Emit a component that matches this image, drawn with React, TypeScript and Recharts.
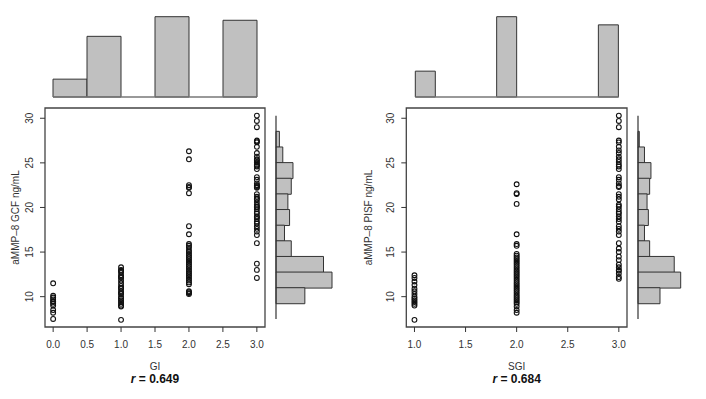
import React from 'react';
import { ScatterChart, Scatter, XAxis, YAxis, ReferenceArea, BarChart, Bar, ReferenceLine } from 'recharts';

// ---- scatter data (aMMP-8 GCF vs GI) ----
const gcfGI0 = [11.5, 10.1, 9.9, 9.7, 9.5, 9.4, 9.2, 9.0, 8.5, 8.2, 7.5];
const gcfGI1 = [13.3, 13.0, 12.9, 12.7, 12.4, 12.2, 12.1, 11.8, 11.5, 11.2, 11.0, 10.9, 10.6, 10.4, 10.3, 10.0, 9.8, 9.6, 9.4, 9.2, 9.0, 8.9, 7.4];
const gcfGI2 = [26.3, 25.4, 22.5, 22.3, 22.2, 21.6, 17.9, 17.0, 15.9, 15.7, 15.5, 15.2, 15.0, 14.8, 14.6, 14.4, 14.2, 14.0, 13.8, 13.6, 13.4, 13.2, 13.0, 12.8, 12.6, 12.4, 12.2, 12.0, 11.8, 11.6, 11.4, 10.6, 10.5, 10.4, 10.3];
const gcfGI3 = [30.3, 29.7, 29.0, 27.5, 27.4, 27.3, 26.8, 26.1, 25.7, 25.4, 25.3, 25.1, 25.0, 24.8, 24.7, 24.6, 24.3, 23.4, 23.1, 22.7, 22.5, 22.4, 22.3, 22.2, 21.5, 21.2, 21.0, 20.9, 20.6, 20.3, 20.1, 20.0, 19.8, 19.5, 19.3, 19.0, 18.9, 18.7, 18.4, 18.2, 17.9, 17.6, 17.3, 16.9, 16.0, 13.7, 13.0, 12.1];

// ---- scatter data (aMMP-8 PISF vs SGI) ----
const pisfSGI1 = [12.4, 12.1, 11.7, 11.3, 10.9, 10.6, 10.3, 10.0, 9.8, 9.6, 9.4, 9.2, 9.0, 7.4];
const pisfSGI2 = [22.6, 21.6, 21.5, 20.4, 17.0, 15.9, 15.7, 14.8, 14.6, 14.4, 14.2, 14.0, 13.8, 13.6, 13.4, 13.2, 13.0, 12.8, 12.6, 12.4, 12.2, 12.0, 11.8, 11.6, 11.4, 11.2, 11.0, 10.8, 10.6, 10.4, 10.2, 10.0, 9.8, 9.6, 9.4, 9.2, 8.9, 8.5, 8.2];
const pisfSGI3 = [30.3, 29.7, 29.0, 27.5, 27.3, 26.8, 26.4, 26.1, 25.7, 25.4, 25.1, 24.8, 24.6, 24.3, 23.4, 23.1, 22.7, 22.4, 22.3, 21.5, 21.2, 20.9, 20.3, 20.1, 19.8, 19.5, 19.3, 19.0, 18.7, 18.4, 17.9, 17.6, 17.3, 16.9, 16.0, 15.4, 15.0, 14.5, 14.1, 13.6, 13.3, 13.0, 12.9, 12.6, 12.2, 12.0];

// ---- marginal histograms ----
const giBins = ['0-0.5', '0.5-1', '1-1.5', '1.5-2', '2-2.5', '2.5-3'];
const giCounts = [10, 34, 0, 45, 0, 43];
const sgiBins = ['1.0-1.2', '1.2-1.4', '1.4-1.6', '1.6-1.8', '1.8-2.0', '2.0-2.2', '2.2-2.4', '2.4-2.6', '2.6-2.8', '2.8-3.0'];
const sgiCounts = [19, 0, 0, 0, 59, 0, 0, 0, 0, 53];
const yBins = ['30-32', '28-30', '26-28', '24-26', '22-24', '20-22', '18-20', '16-18', '14-16', '12-14', '10-12', '8-10', '6-8'];
const gcfCounts = [0, 2, 4, 10, 9, 7, 8, 5, 9, 28, 33, 17, 0];
const pisfCounts = [0, 1, 5, 10, 9, 7, 8, 5, 9, 28, 33, 17, 0];

// ---- ticks & labels ----
const yTicks = [10, 15, 20, 25, 30];
const giTicks = [0, 0.5, 1, 1.5, 2, 2.5, 3];
const sgiTicks = [1, 1.5, 2, 2.5, 3];
const yDomain: [number, number] = [6.6, 31.15];
const giDomain: [number, number] = [-0.12, 3.12];
const sgiDomain: [number, number] = [0.92, 3.08];

const FONT = '"Liberation Sans", Arial, Helvetica, sans-serif';
const TXT = '#333';

const toPts = (x: number, ys: number[]) => ys.map((y) => ({ x, y }));
const giPoints = [...toPts(0, gcfGI0), ...toPts(1, gcfGI1), ...toPts(2, gcfGI2), ...toPts(3, gcfGI3)];
const sgiPoints = [...toPts(1, pisfSGI1), ...toPts(2, pisfSGI2), ...toPts(3, pisfSGI3)];

const mkHist = (bins: string[], counts: number[]) => bins.map((bin, i) => ({ bin, count: counts[i] }));

const Circle = (props: any) => (
  <circle cx={props.cx} cy={props.cy} r={2.4} fill="none" stroke="#111" strokeWidth={1.1} />
);

const YTick = (props: any) => {
  const { x, y, payload } = props;
  return (
    <text x={x} y={y} transform={`rotate(-90 ${x} ${y})`} textAnchor="middle" fontSize={10} fill={TXT} fontFamily={FONT}>
      {payload.value}
    </text>
  );
};

const Abs = ({ left, top, children }: any) => (
  <div style={{ position: 'absolute', left, top }}>{children}</div>
);

function ScatterPanel({ points, ticks, domain, yAxisWidth, marginRight }: any) {
  return (
    <ScatterChart width={300} height={399} margin={{ top: 108, right: marginRight, bottom: 42, left: 0 }}>
      <XAxis
        type="number"
        dataKey="x"
        domain={domain}
        ticks={ticks}
        allowDataOverflow
        tickFormatter={(v: number) => v.toFixed(1)}
        axisLine={false}
        tickLine={{ stroke: TXT }}
        tickSize={5}
        tickMargin={9}
        height={30}
        tick={{ fontSize: 10, fill: TXT, fontFamily: FONT }}
      />
      <YAxis
        type="number"
        dataKey="y"
        domain={yDomain}
        ticks={yTicks}
        allowDataOverflow
        axisLine={false}
        tickLine={{ stroke: TXT }}
        tickSize={5}
        tickMargin={7}
        width={yAxisWidth}
        tick={<YTick />}
      />
      <ReferenceArea x1={domain[0]} x2={domain[1]} y1={yDomain[0]} y2={yDomain[1]} fill="none" stroke="#444" strokeWidth={1.3} fillOpacity={0} ifOverflow="visible" />
      <Scatter data={points} dataKey="y" shape={Circle} isAnimationActive={false} />
    </ScatterChart>
  );
}

function TopHist({ data, max, left, right }: any) {
  return (
    <BarChart width={300} height={100} data={data} margin={{ top: 16.7, right, bottom: 3, left }} barCategoryGap={0} barGap={0}>
      <XAxis dataKey="bin" hide />
      <YAxis hide domain={[0, max]} />
      <ReferenceLine y={0} stroke="#777" strokeWidth={1.5} ifOverflow="visible" />
      <Bar dataKey="count" fill="#c0c0c0" stroke="#333" strokeWidth={1} isAnimationActive={false} />
    </BarChart>
  );
}

function SideHist({ data, max, width, left, right }: any) {
  return (
    <BarChart layout="vertical" width={width} height={230} data={data} margin={{ top: 15.7, right, bottom: 11, left }} barCategoryGap={0} barGap={0}>
      <XAxis type="number" hide domain={[0, max]} />
      <YAxis type="category" dataKey="bin" hide />
      <ReferenceLine x={0} stroke="#333" strokeWidth={1.2} ifOverflow="visible" />
      <Bar dataKey="count" fill="#c0c0c0" stroke="#333" strokeWidth={1} isAnimationActive={false} />
    </BarChart>
  );
}

export default function App() {
  return (
    <div style={{ position: 'absolute', left: 0, top: 0, width: 706, height: 399, background: '#fff', overflow: 'hidden' }}>
      <Abs left={0} top={0}>
        <TopHist data={mkHist(giBins, giCounts)} max={45} left={53} right={43} />
      </Abs>
      <Abs left={353} top={0}>
        <TopHist data={mkHist(sgiBins, sgiCounts)} max={59} left={62.3} right={34.3} />
      </Abs>
      <Abs left={0} top={0}>
        <ScatterPanel points={giPoints} ticks={giTicks} domain={giDomain} yAxisWidth={45} marginRight={35} />
      </Abs>
      <Abs left={353} top={0}>
        <ScatterPanel points={sgiPoints} ticks={sgiTicks} domain={sgiDomain} yAxisWidth={53.3} marginRight={26} />
      </Abs>
      <Abs left={260} top={100}>
        <SideHist data={mkHist(yBins, gcfCounts)} max={33} width={90} left={16} right={18} />
      </Abs>
      <Abs left={620} top={100}>
        <SideHist data={mkHist(yBins, pisfCounts)} max={33} width={86} left={18} right={25.3} />
      </Abs>
      <svg width={706} height={399} style={{ position: 'absolute', left: 0, top: 0, pointerEvents: 'none' }} fontFamily={FONT}>
        <text x={18.7} y={217.5} transform="rotate(-90 18.7 217.5)" textAnchor="middle" fontSize={10} fill={TXT}>aMMP–8 GCF ng/mL</text>
        <text x={371.7} y={217.5} transform="rotate(-90 371.7 217.5)" textAnchor="middle" fontSize={10} fill={TXT}>aMMP–8 PISF ng/mL</text>
        <text x={155} y={370} textAnchor="middle" fontSize={10} fill={TXT}>GI</text>
        <text x={516.7} y={370} textAnchor="middle" fontSize={10} fill={TXT}>SGI</text>
        <text x={155} y={382.5} textAnchor="middle" fontSize={12} fontWeight="bold" fill="#111">
          <tspan fontStyle="italic">r</tspan> = 0.649
        </text>
        <text x={516.7} y={382.5} textAnchor="middle" fontSize={12} fontWeight="bold" fill="#111">
          <tspan fontStyle="italic">r</tspan> = 0.684
        </text>
      </svg>
    </div>
  );
}
